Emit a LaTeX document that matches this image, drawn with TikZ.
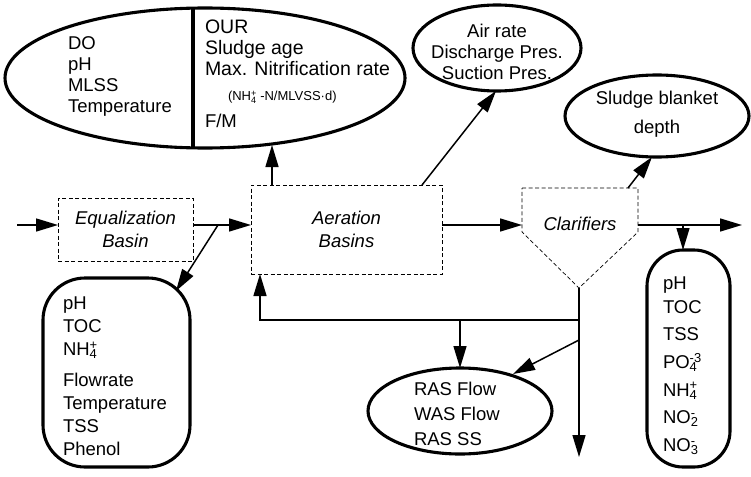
\documentclass[tikz,border=0pt]{standalone}
\usepackage{fontspec}
\setmainfont{Liberation Sans}
\usetikzlibrary{arrows.meta,shapes.geometric,calc}
\newcommand\ionsc[2]{\rlap{\textsuperscript{#1}}\textsubscript{#2}}
\begin{document}
\begin{tikzpicture}[x=1pt,y=-1pt,
  every node/.style={inner sep=0pt,outer sep=0pt},
  txt/.style={font=\fontsize{18.5}{21}\selectfont, align=left},
  ctxt/.style={font=\fontsize{18.5}{21}\selectfont, align=center},
  itxt/.style={font=\fontsize{18.5}{23}\selectfont\itshape, align=center},
  oval/.style={ellipse, draw, line width=3.1pt},
  rbox/.style={rectangle, draw, line width=3.1pt},
  dbox/.style={draw, dash pattern=on 4pt off 2.5pt, line width=0.7pt},
  conn/.style={line width=1.5pt, -{Triangle[length=22pt,width=13pt]}},
  plain/.style={line width=1.5pt}]
\useasboundingbox (0,0) rectangle (751,476);

% ---------- ellipses ----------
\node[oval, minimum width=400pt, minimum height=140pt] (big) at (205,78) {};
\begin{scope}
  \clip (205,78) ellipse [x radius=200pt, y radius=70pt];
  \draw[line width=3.1pt] (193,0) -- (193,160);
\end{scope}
\node[txt, anchor=north west] (bigL) at (68,37) {DO\\pH\\MLSS\\Temperature};
\node[txt, anchor=north west, font=\fontsize{19.5}{21}\selectfont] (bigR) at (205,20) {OUR\\Sludge age\\Max. Nitrification rate};
\node[anchor=base west, font=\fontsize{13}{13}\selectfont] (bigN) at (228,101) {(NH\ionsc{+}{4} -N/MLVSS·d)};
\node[txt, anchor=base west] (bigF) at (205,128) {F/M};

\node[oval, minimum width=168pt, minimum height=86pt] (air) at (497,48) {};
\node[ctxt] (airT) at (497,52) {Air rate\\Discharge Pres.\\Suction Pres.};

\node[oval, minimum width=184pt, minimum height=82pt] (sl) at (657,116) {};
\node[ctxt, font=\fontsize{18.5}{29}\selectfont] (slT) at (657,114) {Sludge blanket\\depth};

\node[oval, minimum width=184pt, minimum height=86pt] (ras) at (460,411) {};
\node[anchor=north west, align=left, font=\fontsize{18.5}{25}\selectfont] (rasT) at (414,382) {RAS Flow\\WAS Flow\\RAS SS};

% ---------- rounded boxes ----------
\node[rbox, rounded corners=42pt, minimum width=147pt, minimum height=189pt] (lbox) at (116.5,372.5) {};
\node[anchor=north west, align=left, font=\fontsize{18.5}{23}\selectfont] (lboxT) at (63,297)
  {pH\\TOC\\NH\ionsc{+}{4}\\[8pt]Flowrate\\Temperature\\TSS\\Phenol};

\node[rbox, rounded corners=36pt, minimum width=83pt, minimum height=217pt] (rbx) at (688.5,358.5) {};
\node[anchor=north west, align=left, font=\fontsize{18.5}{27.6}\selectfont] (rbxT) at (663,277)
  {pH\\[-4pt]TOC\\TSS\\PO\ionsc{-3}{4}\\NH\ionsc{+}{4}\\NO\ionsc{-}{2}\\NO\ionsc{-}{3}};

% ---------- process units ----------
\node[dbox, itxt, minimum width=135pt, minimum height=63pt] (eq) at (125.5,229.5) {Equalization\\Basin};
\node[dbox, itxt, minimum width=191pt, minimum height=89pt] (aer) at (346.5,229.5) {Aeration\\Basins};
\draw[dbox] (522,188) -- (638,188) -- (638,232) -- (579,288) -- (522,232) -- cycle;
\node[font=\fontsize{18.5}{21}\selectfont\itshape] (clar) at (580,224) {Clarifiers};
\coordinate (cL) at (522,225);
\coordinate (cR) at (638,225);
\coordinate (cTip) at (579,288);
\coordinate (cTR) at (628,188);

% ---------- connectors ----------
\coordinate (in) at (17,225);
\coordinate (out) at (742,225);
\draw[conn] (in) -- (in -| eq.west);
\draw[conn] (eq.east |- in) -- (in -| aer.west);
\draw[conn] (aer.east |- in) -- (cL);
\draw[conn] (cR) -- (out);

\coordinate (e1) at (218,225);
\coordinate (e1t) at (176,291);
\draw[conn] (e1) -- (e1t);

\coordinate (o1) at (683,225);
\draw[conn] (o1) -- (o1 |- rbx.north);

\coordinate (a1) at ($(aer.north west)+(21,0)$);
\coordinate (a1t) at (272,145);
\draw[conn] (a1) -- (a1t);

\coordinate (a2) at (422,185);
\coordinate (a2t) at (496,91);
\draw[conn] (a2) -- (a2t);

\coordinate (s1t) at (652,157);
\draw[conn] (cTR) -- (s1t);

\coordinate (down) at (579,457);
\draw[conn] (cTip) -- (down);

\coordinate (r1) at (579,320);
\draw[conn] (r1) -| ($(aer.south west)+(9,0)$);

\coordinate (r2) at (460,320);
\draw[conn] (r2) -- (ras.north);

\coordinate (r3) at (579,340);
\coordinate (r3t) at (513,374);
\draw[conn] (r3) -- (r3t);
\end{tikzpicture}
\end{document}
